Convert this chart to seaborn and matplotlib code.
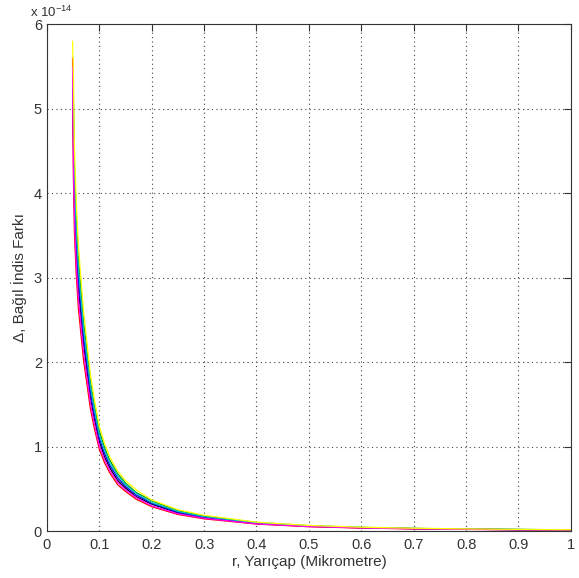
import numpy as np
import pandas as pd
import matplotlib
matplotlib.use("Agg")
import matplotlib.pyplot as plt
from matplotlib.ticker import FuncFormatter
import seaborn as sns

# Radius values (micrometre) shared by every curve
r = [0.049, 0.0505, 0.0526, 0.056, 0.06, 0.065, 0.07, 0.076, 0.083, 0.09,
     0.1, 0.11, 0.12, 0.135, 0.15, 0.17, 0.2, 0.25, 0.3, 0.4,
     0.5, 0.6, 0.7, 0.8, 0.9, 1.0]

# Relative index difference for each curve, in units of 1e-14
delta_blue = [5.2, 4.8, 4.0, 3.45, 3.0, 2.65, 2.3, 2.0, 1.65, 1.4,
              1.1, 0.92, 0.78, 0.63, 0.53, 0.43, 0.33, 0.225, 0.166, 0.095,
              0.06, 0.042, 0.031, 0.024, 0.019, 0.015]
delta_green = [5.4, 5.18, 4.32, 3.73, 3.24, 2.86, 2.48, 2.16, 1.78, 1.51,
               1.19, 0.99, 0.84, 0.68, 0.57, 0.46, 0.36, 0.243, 0.179, 0.103,
               0.065, 0.045, 0.033, 0.026, 0.021, 0.016]
delta_red = [5.6, 4.22, 3.52, 3.04, 2.64, 2.33, 2.02, 1.76, 1.45, 1.23,
             0.97, 0.81, 0.69, 0.55, 0.47, 0.38, 0.29, 0.198, 0.146, 0.084,
             0.053, 0.037, 0.027, 0.021, 0.017, 0.013]
delta_cyan = [5.3, 4.99, 4.16, 3.59, 3.12, 2.76, 2.39, 2.08, 1.72, 1.46,
              1.14, 0.96, 0.81, 0.66, 0.55, 0.45, 0.34, 0.234, 0.173, 0.099,
              0.062, 0.044, 0.032, 0.025, 0.020, 0.016]
delta_magenta = [5.5, 4.42, 3.68, 3.17, 2.76, 2.44, 2.12, 1.84, 1.52, 1.29,
                 1.01, 0.85, 0.72, 0.58, 0.49, 0.40, 0.30, 0.207, 0.153, 0.087,
                 0.055, 0.039, 0.029, 0.022, 0.017, 0.014]
delta_yellow = [5.8, 5.42, 4.52, 3.90, 3.39, 2.99, 2.60, 2.26, 1.86, 1.58,
                1.24, 1.04, 0.88, 0.71, 0.60, 0.49, 0.37, 0.254, 0.188, 0.107,
                0.068, 0.047, 0.035, 0.027, 0.021, 0.017]
delta_black = [5.0, 4.61, 3.84, 3.31, 2.88, 2.54, 2.21, 1.92, 1.58, 1.34,
               1.06, 0.88, 0.75, 0.60, 0.51, 0.41, 0.32, 0.216, 0.159, 0.091,
               0.058, 0.040, 0.030, 0.023, 0.018, 0.014]

series_names = ["k", "b", "g", "r", "c", "m", "y"]
series_values = [delta_black, delta_blue, delta_green, delta_red,
                 delta_cyan, delta_magenta, delta_yellow]
series_colors = ["#000000", "#0000ff", "#00a000", "#ff0000",
                 "#00c0c0", "#ff00ff", "#ffff00"]

x_ticks = [0, 0.1, 0.2, 0.3, 0.4, 0.5, 0.6, 0.7, 0.8, 0.9, 1]
x_tick_labels = ["0", "0.1", "0.2", "0.3", "0.4", "0.5", "0.6", "0.7", "0.8", "0.9", "1"]
y_ticks = [0, 1, 2, 3, 4, 5, 6]
unit = 1e-14

frames = []
for name, vals in zip(series_names, series_values):
    frames.append(pd.DataFrame({"r": r,
                                "delta": np.asarray(vals) * unit,
                                "curve": name}))
df = pd.concat(frames, ignore_index=True)

sns.set_style("white")
plt.rcParams["font.family"] = ["Liberation Sans", "DejaVu Sans"]
plt.rcParams["font.size"] = 10.5

text_color = "#333333"

fig = plt.figure(figsize=(5.79, 5.78), dpi=100)
ax = fig.add_axes([0.081, 0.081, 0.905, 0.877])

sns.lineplot(data=df, x="r", y="delta", hue="curve",
             palette=dict(zip(series_names, series_colors)),
             hue_order=series_names, sort=False, estimator=None,
             linewidth=0.9, legend=False, ax=ax)

ax.set_xlim(0, 1)
ax.set_ylim(0, 6 * unit)
ax.set_xticks(x_ticks)
ax.set_xticklabels(x_tick_labels)
ax.set_yticks([v * unit for v in y_ticks])
ax.yaxis.set_major_formatter(FuncFormatter(lambda v, _: f"{v / unit:g}"))

# exponent marker above the y axis
ax.text(-0.032, 1.008, r"x 10$^{\mathdefault{-14}}$", transform=ax.transAxes,
        ha="left", va="bottom", fontsize=9.5, color=text_color)

ax.grid(True, linestyle=(0, (1, 3)), color="#444444", linewidth=0.8)
for side in ["top", "right", "bottom", "left"]:
    ax.spines[side].set_visible(True)
    ax.spines[side].set_color(text_color)
    ax.spines[side].set_linewidth(0.8)
ax.tick_params(direction="in", length=5, width=0.8, colors=text_color,
               top=True, right=True, labelsize=10.5)
ax.tick_params(axis="x", pad=5)

ax.set_xlabel("r, Yarıçap (Mikrometre)", color=text_color, fontsize=11, labelpad=2)
ax.set_ylabel("Δ, Bağıl İndis Farkı", color=text_color, fontsize=11, labelpad=5)

fig.savefig("out.png", dpi=100, facecolor="white")
